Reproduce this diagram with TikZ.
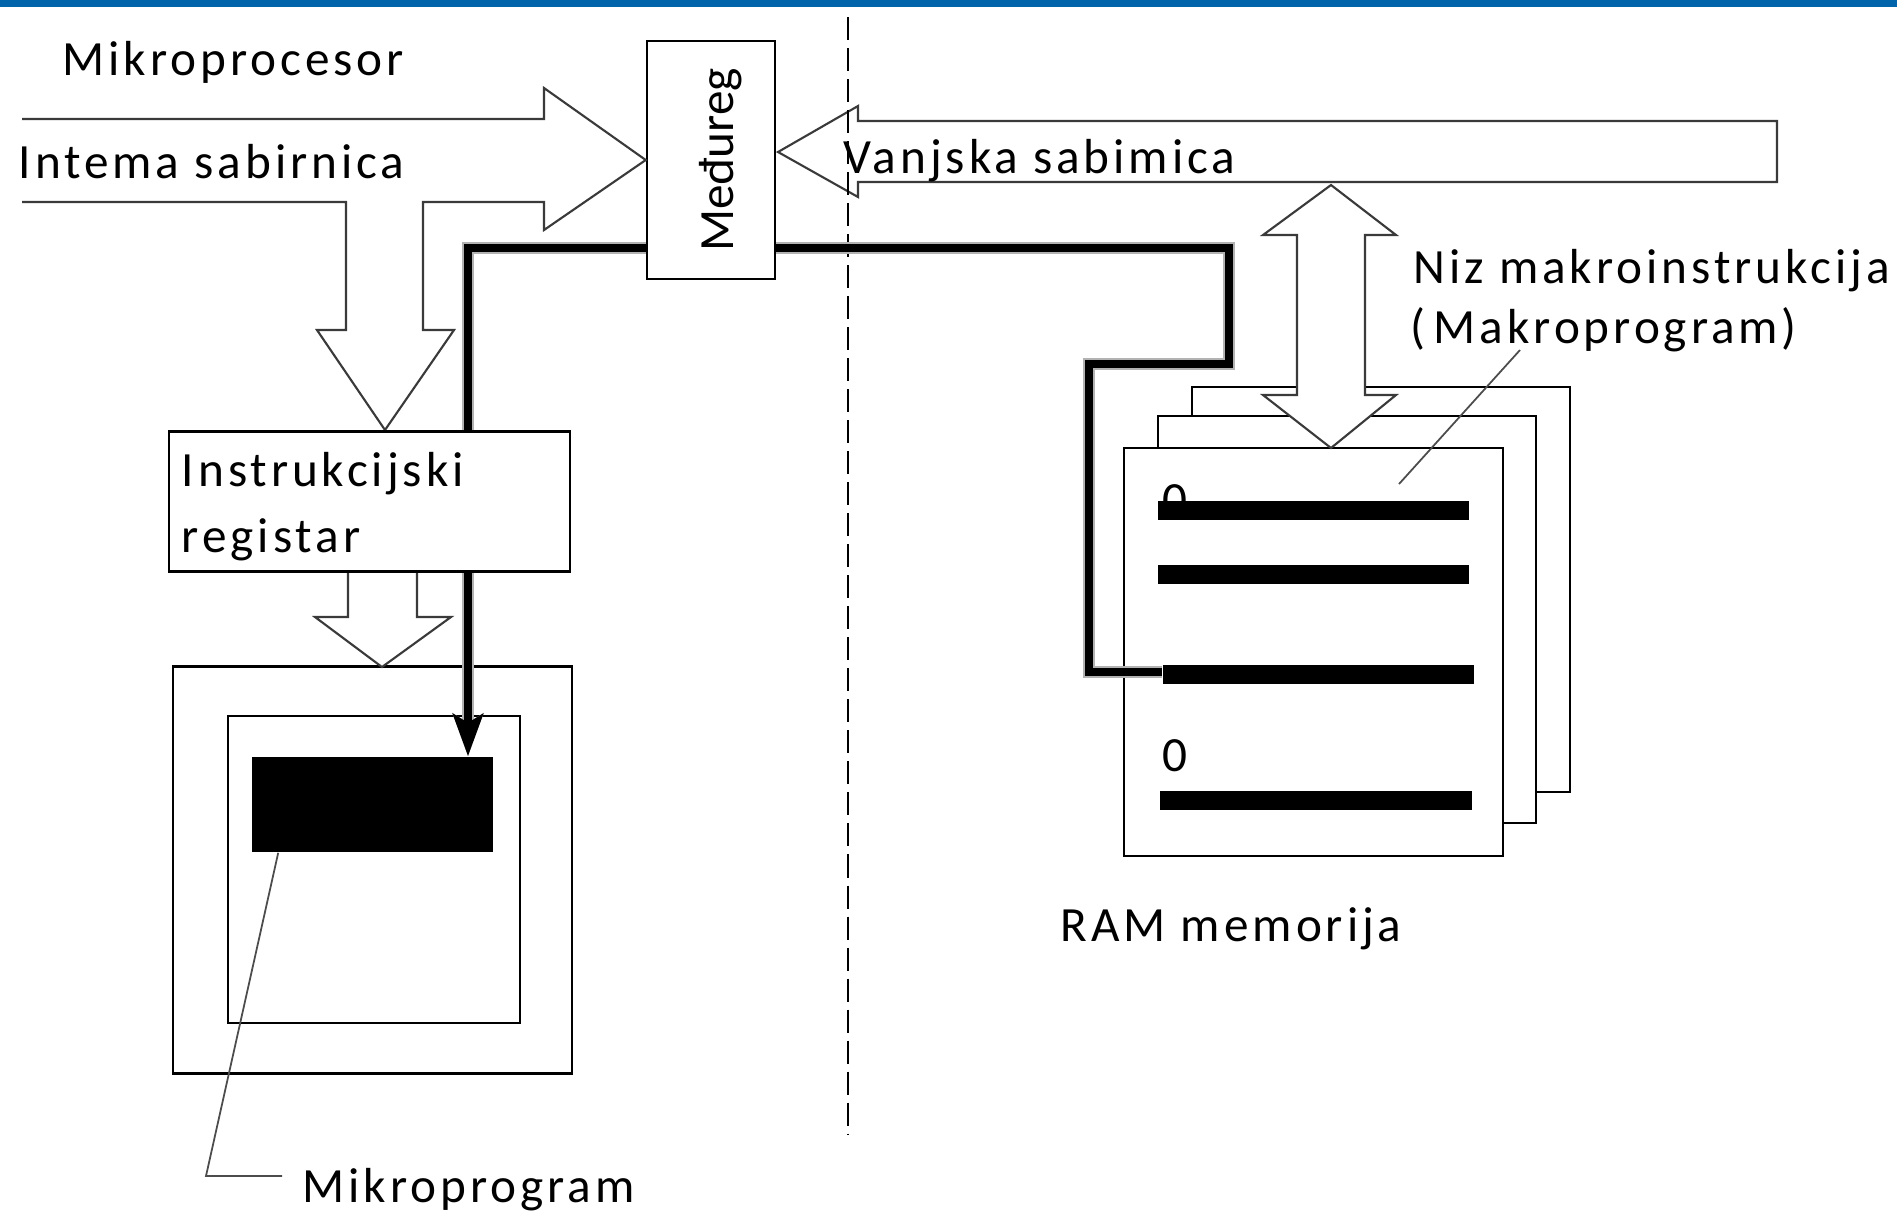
\documentclass[tikz,border=0pt]{standalone}
\usepackage{fontspec}
\usepackage{tikz}
\usetikzlibrary{arrows.meta,calc}
\newfontfamily\lblfont{Carlito}[LetterSpace=8]
\newfontfamily\medfont{Carlito}
\definecolor{topblue}{RGB}{0,100,170}
\definecolor{busgray}{HTML}{3A3A3A}
\tikzset{
  lbl/.style={font=\lblfont\fontsize{14}{18.8}\selectfont, inner sep=0pt},
  medtxt/.style={font=\medfont\fontsize{14}{16}\selectfont, inner sep=0pt},
  regbox/.style={draw=black, line width=0.7pt, fill=white, inner sep=0pt},
  pagebox/.style={regbox, line width=0.6pt},
  barfill/.style={fill=black, inner sep=0pt, minimum width=3.11cm, minimum height=0.19cm},
  busarrow/.style={draw=busgray, line width=0.6pt, fill=white, line join=miter},
  thickbus/.style={draw=black, line width=2.3pt, line join=miter,
    preaction={draw=black!30, line width=3.5pt}},
  leader/.style={draw=black!70, line width=0.5pt},
  divider/.style={draw=black, line width=0.8pt, dash pattern=on 0.23cm off 0.08cm}
}
\begin{document}
\begin{tikzpicture}[x=0.01cm, y=-0.01cm]
  \useasboundingbox (0,0) rectangle (1897,1211);
  \fill[white] (0,0) rectangle (1897,1211);
  \fill[topblue] (0,0) rectangle (1897,7);

  % memory side
  \node[pagebox, minimum width=3.78cm, minimum height=4.05cm] (pageback) at (1381,589.5) {};
  \node[pagebox, minimum width=3.78cm, minimum height=4.06cm] (pagemid) at (1347,619.5) {};
  \node[pagebox, minimum width=3.79cm, minimum height=4.08cm] (pagefront) at (1313.5,652) {};
  \node[lbl, anchor=base west] (zeroa) at (1162,516) {0};
  \node[lbl, anchor=base west] (zerob) at (1162,771) {0};
  \node[barfill] (bara) at (1313.5,510.5) {};
  \node[barfill] (barb) at (1313.5,574.5) {};
  \node[barfill] (barc) at (1318.5,674.5) {};
  \node[barfill] (bard) at (1316,800.5) {};

  % processor side
  \node[regbox, minimum width=3.99cm, minimum height=4.07cm] (ctrlouter) at (372.5,870) {};
  \node[regbox, minimum width=2.92cm, minimum height=3.07cm] (ctrlinner) at (374,869.5) {};
  \node[fill=black, inner sep=0pt, minimum width=2.41cm, minimum height=0.95cm] (microblk) at (372.5,804.5) {};

  % buses
  \node[regbox, minimum width=1.28cm, minimum height=2.38cm] (medjureg) at (711,160) {};
  \draw[busarrow] (22,119) -- (544,119) -- (544,88) -- (medjureg.west) -- (544,230) -- (544,202)
    -- (423,202) -- (423,330) -- (454,330) -- (385,430) -- (317,330) -- (346,330) -- (346,202) -- (22,202);
  \draw[busarrow] (1777,121) -- (858,121) -- (858,106) -- (778,152) -- (858,197) -- (858,182) -- (1777,182) -- cycle;
  \draw[busarrow] (1331,185) -- (1396,235) -- (1365,235) -- (1365,395) -- (1396,395) -- (1331,448)
    -- (1263,395) -- (1297,395) -- (1297,235) -- (1263,235) -- cycle;
  \draw[busarrow] (348,572) -- (348,617) -- (315,617) -- (382,667) -- (451,617) -- (417,617) -- (417,572);

  \draw[divider] (848,17) -- (848,1135);

  % microinstruction paths
  \coordinate (leftdrop) at (468,248);
  \coordinate (rightturn) at (1229,248);
  \draw[thickbus, -{Stealth[length=12pt,width=8.5pt,inset=2.5pt]}] (medjureg.west |- leftdrop) -- (leftdrop) -- (leftdrop |- microblk.north);
  \draw[thickbus] (medjureg.east |- rightturn) -- (rightturn) -- (1229,364) -- (1089,364) -- (1089,672) -- (barc.west |- 0,672);

  \node[regbox, minimum width=4.01cm, minimum height=1.40cm, text width=3.75cm, align=left,
        font=\lblfont\fontsize{14}{18.8}\selectfont] (instreg) at (369.5,501.5) {\rule{0pt}{12.5pt}Instrukcijski\\registar};
  \node[medtxt, rotate=90] (medjutxt) at (721,160) {Međureg};

  % labels
  \node[lbl, anchor=base west] (cpulbl) at (62,75) {Mikroprocesor};
  \node[lbl, anchor=base west] (intlbl) at (18,178) {Intema sabirnica};
  \node[lbl, anchor=base west] (extlbl) at (843,173) {Vanjska sabimica};
  \node[lbl, anchor=base west] (macrolbl) at (1413,283) {Niz makroinstrukcija};
  \node[lbl, anchor=base west] (macrolblb) at (1410,343) {(\,Makroprogram)};
  \node[lbl, anchor=base west] (ramlbl) at (1060,941) {RAM memorija};
  \node[lbl, anchor=base west] (microlbl) at (302,1202) {Mikroprogram};

  \draw[leader] ($(microblk.south west)+(27,0)$) -- (206,1176) -- (282,1176);
  \draw[leader] (1520,350) -- (1399,484);
\end{tikzpicture}
\end{document}
